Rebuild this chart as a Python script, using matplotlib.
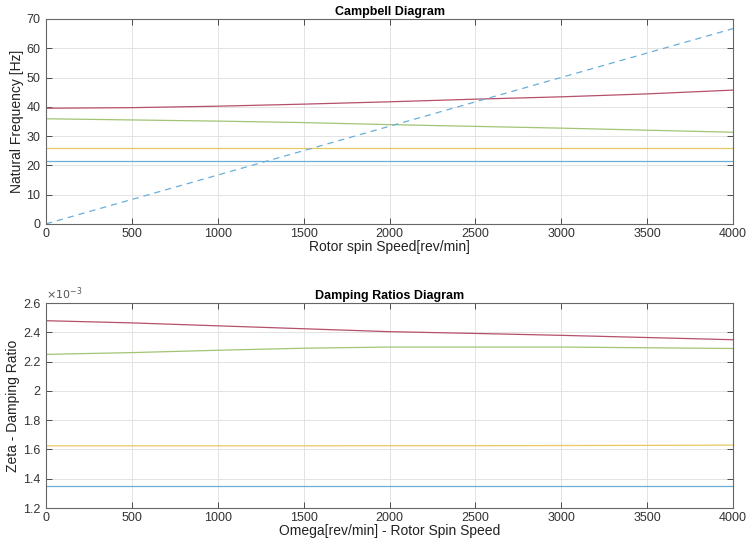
import matplotlib.pyplot as plt
from matplotlib.ticker import FuncFormatter

plt.rcParams['font.family'] = ['Liberation Sans', 'DejaVu Sans']

# spin speed samples (rev/min)
rpm = [0, 500, 1000, 1500, 2000, 2500, 3000, 3500, 4000]

# natural frequencies [Hz]
freq_1 = [21.6, 21.6, 21.6, 21.6, 21.6, 21.6, 21.6, 21.6, 21.6]
freq_2 = [25.9, 25.9, 25.9, 25.9, 25.9, 25.9, 25.9, 25.9, 25.9]
freq_3 = [35.9, 35.5, 35.1, 34.6, 33.9, 33.3, 32.7, 32.0, 31.3]
freq_4 = [39.5, 39.7, 40.2, 40.9, 41.7, 42.6, 43.4, 44.4, 45.7]

# excitation line 1x (Hz)
exc_rpm = [0, 4000]
exc_hz = [0, 66.7]

# damping ratios (x 1e-3)
zeta_1 = [1.350, 1.350, 1.350, 1.350, 1.350, 1.350, 1.350, 1.350, 1.350]
zeta_2 = [1.625, 1.625, 1.625, 1.625, 1.626, 1.626, 1.627, 1.628, 1.630]
zeta_3 = [2.250, 2.262, 2.278, 2.292, 2.300, 2.300, 2.300, 2.295, 2.290]
zeta_4 = [2.480, 2.465, 2.445, 2.425, 2.405, 2.393, 2.380, 2.365, 2.350]

c_blue = '#6aafd8'
c_yellow = '#e8c860'
c_green = '#a2c474'
c_red = '#b5506a'
axis_col = '#666666'

fig = plt.figure(figsize=(7.47, 5.42), dpi=100)
ax1 = fig.add_axes([0.0616, 0.587, 0.9197, 0.378])
ax2 = fig.add_axes([0.0616, 0.0627, 0.9197, 0.378])


def style(ax):
    ax.grid(True, color='#e3e3e3', linewidth=0.7)
    ax.set_axisbelow(True)
    ax.tick_params(direction='in', top=True, right=True, length=4,
                   labelsize=9, colors='#333333', width=0.6)
    ax.tick_params(axis='x', pad=3)
    ax.tick_params(axis='y', pad=4)
    for s in ax.spines.values():
        s.set_color(axis_col)
        s.set_linewidth(0.8)


ax1.plot(rpm, freq_1, color=c_blue, lw=0.9)
ax1.plot(rpm, freq_2, color=c_yellow, lw=0.9)
ax1.plot(rpm, freq_3, color=c_green, lw=0.9)
ax1.plot(rpm, freq_4, color=c_red, lw=0.9)
ax1.plot(exc_rpm, exc_hz, color=c_blue, lw=0.9, ls=(0, (5, 4)))
ax1.set_xlim(0, 4000)
ax1.set_ylim(0, 70)
ax1.set_xticks(range(0, 4001, 500))
ax1.set_yticks(range(0, 71, 10))
ax1.set_title('Campbell Diagram', fontsize=9, fontweight='bold', pad=3)
ax1.set_xlabel('Rotor spin Speed[rev/min]', fontsize=10, labelpad=0, color='#222222')
ax1.set_ylabel('Natural Frequency [Hz]', fontsize=10, labelpad=2, color='#222222')
style(ax1)

ax2.plot(rpm, zeta_1, color=c_blue, lw=0.9)
ax2.plot(rpm, zeta_2, color=c_yellow, lw=0.9)
ax2.plot(rpm, zeta_3, color=c_green, lw=0.9)
ax2.plot(rpm, zeta_4, color=c_red, lw=0.9)
ax2.set_xlim(0, 4000)
ax2.set_ylim(1.2, 2.6)
ax2.set_xticks(range(0, 4001, 500))
ax2.set_yticks([1.2, 1.4, 1.6, 1.8, 2.0, 2.2, 2.4, 2.6])
ax2.yaxis.set_major_formatter(FuncFormatter(lambda v, p: '%g' % round(v, 2)))
ax2.set_title('Damping Ratios Diagram', fontsize=9, fontweight='bold', pad=3)
ax2.set_xlabel('Omega[rev/min] - Rotor Spin Speed', fontsize=10, labelpad=0, color='#222222')
ax2.set_ylabel('Zeta - Damping Ratio', fontsize=10, labelpad=2, color='#222222')
ax2.text(0.0, 1.005, r'$\times 10^{-3}$', transform=ax2.transAxes,
         fontsize=8, color='#555555', va='bottom', ha='left')
style(ax2)

fig.savefig('out.png', dpi=100)
